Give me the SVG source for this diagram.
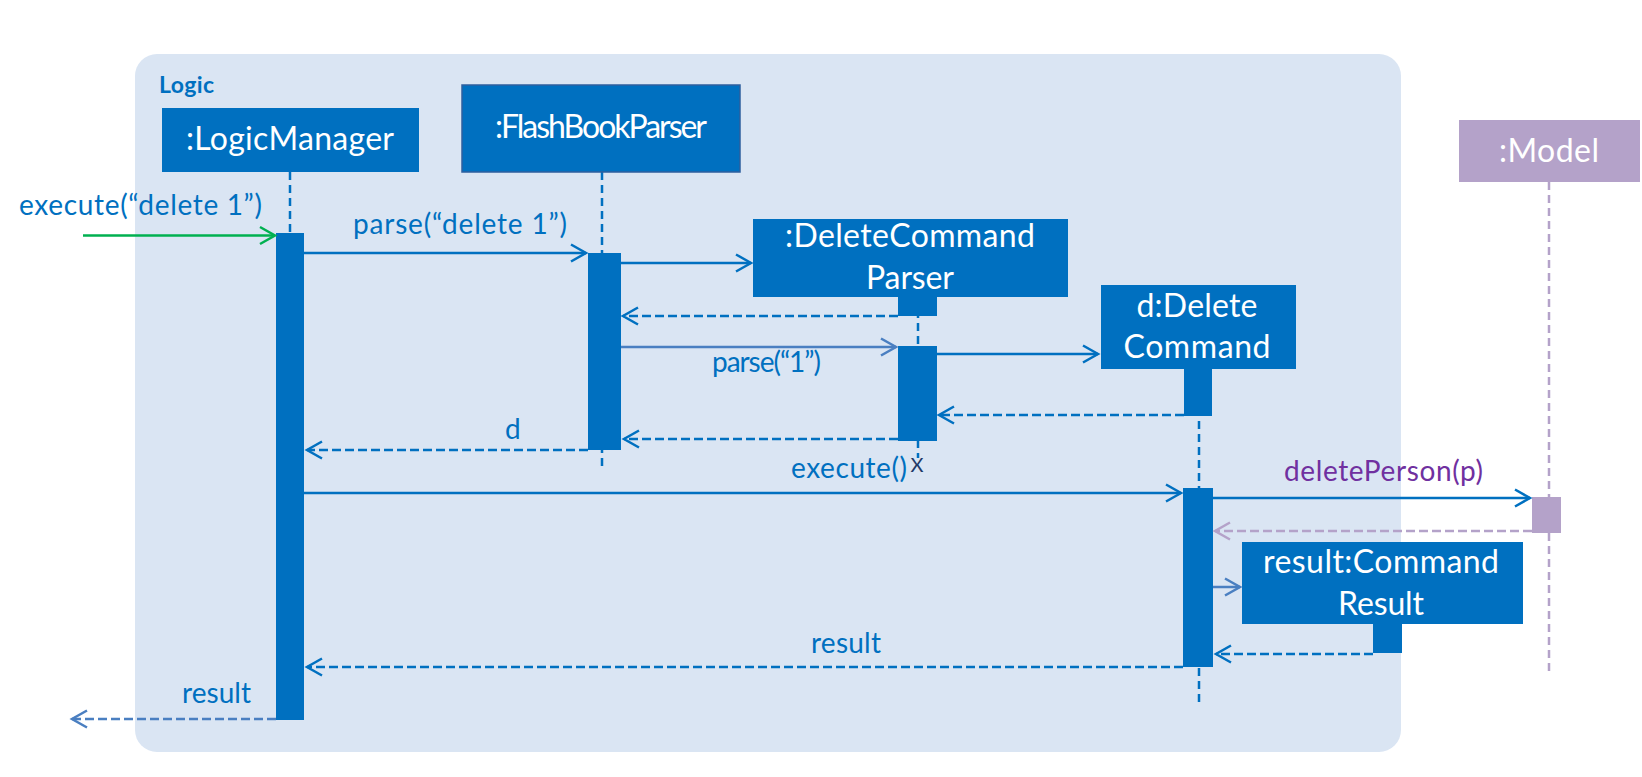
<svg xmlns="http://www.w3.org/2000/svg" width="1642" height="777" viewBox="0 0 1642 777">
<style>
text{font-family:Lato,"Liberation Sans",sans-serif}
.box{fill:#0070c0}
.act{fill:#0070c0}
.nl{fill:#ffffff;font-size:32px;text-anchor:middle}
.ml{fill:#0070c0;font-size:28px}
.life{stroke:#0070c0;stroke-width:2.5;stroke-dasharray:8 5;fill:none}
.sol{stroke:#0070c0;stroke-width:2.5;fill:none}
.lite{stroke:#4a7fc1;stroke-width:2.5;fill:none}
.ret{stroke:#0070c0;stroke-width:2.5;stroke-dasharray:9 4;fill:none}
</style>
<defs>
<marker id="ab" markerUnits="userSpaceOnUse" viewBox="-17 -10 19 20" refX="0" refY="0" markerWidth="19" markerHeight="20" orient="auto" overflow="visible"><path d="M-15,-8.5 L0,0 L-15,8.5" fill="none" stroke="#0070c0" stroke-width="2.5"/></marker>
<marker id="ag" markerUnits="userSpaceOnUse" viewBox="-17 -10 19 20" refX="0" refY="0" markerWidth="19" markerHeight="20" orient="auto" overflow="visible"><path d="M-15,-8.5 L0,0 L-15,8.5" fill="none" stroke="#00b050" stroke-width="2.5"/></marker>
<marker id="al" markerUnits="userSpaceOnUse" viewBox="-17 -10 19 20" refX="0" refY="0" markerWidth="19" markerHeight="20" orient="auto" overflow="visible"><path d="M-15,-8.5 L0,0 L-15,8.5" fill="none" stroke="#4a7fc1" stroke-width="2.5"/></marker>
<marker id="ap" markerUnits="userSpaceOnUse" viewBox="-17 -10 19 20" refX="0" refY="0" markerWidth="19" markerHeight="20" orient="auto" overflow="visible"><path d="M-15,-8.5 L0,0 L-15,8.5" fill="none" stroke="#b4a2c9" stroke-width="2.5"/></marker>
</defs>
<rect width="1642" height="777" fill="#ffffff"/>
<g id="logic-frame">
<rect x="135" y="54" width="1266" height="698" rx="22" fill="#dae5f3"/>
<text x="159" y="93" font-size="23" font-weight="bold" fill="#0070c0" textLength="55">Logic</text>
</g>
<g id="lifelines">
<line class="life" x1="290" y1="172" x2="290" y2="233"/>
<line class="life" x1="602" y1="172" x2="602" y2="470"/>
<line class="life" x1="918" y1="297" x2="918" y2="458"/>
<line class="life" x1="1199" y1="369" x2="1199" y2="707"/>
<line x1="1549" y1="182" x2="1549" y2="673" stroke="#b4a2c9" stroke-width="2.5" stroke-dasharray="8 5"/>
</g>
<g id="LogicManager">
<rect class="box" x="162" y="108" width="257" height="64"/>
<text class="nl" x="290" y="150" textLength="208">:LogicManager</text>
<rect class="act" x="276" y="233" width="28" height="487"/>
</g>
<g id="FlashBookParser">
<rect class="box" x="462" y="85" width="278" height="87" stroke="#2e5f9e" stroke-width="1.5"/>
<text class="nl" x="601" y="138" font-size="28" textLength="212">:FlashBookParser</text>
<rect class="act" x="588" y="253" width="33" height="197"/>
</g>
<g id="DeleteCommandParser">
<rect class="box" x="753" y="219" width="315" height="78"/>
<text class="nl" x="910" y="247" textLength="250">:DeleteCommand</text>
<text class="nl" x="910" y="289" textLength="88">Parser</text>
<rect class="act" x="898" y="296" width="39" height="20"/>
<rect class="act" x="898" y="346" width="39" height="95"/>
<text x="917" y="472" font-size="20" fill="#1f3a68" text-anchor="middle">X</text>
</g>
<g id="DeleteCommand">
<rect class="box" x="1101" y="285" width="195" height="84"/>
<text class="nl" x="1197" y="317" textLength="121">d:Delete</text>
<text class="nl" x="1197" y="358" textLength="147">Command</text>
<rect class="act" x="1184" y="368" width="28" height="48"/>
<rect class="act" x="1183" y="488" width="30" height="179"/>
</g>
<g id="Model">
<rect x="1459" y="120" width="181" height="62" fill="#b4a2c9"/>
<text class="nl" x="1549" y="162" textLength="100">:Model</text>
<rect x="1532" y="497" width="29" height="36" fill="#b4a2c9"/>
</g>
<g id="CommandResult">
<rect class="box" x="1242" y="542" width="281" height="82"/>
<text class="nl" x="1381" y="573" textLength="236">result:Command</text>
<text class="nl" x="1381" y="615" textLength="86">Result</text>
<rect class="act" x="1373" y="623" width="29" height="30"/>
</g>
<g id="connectors">
<line x1="83" y1="235.5" x2="275" y2="235.5" stroke="#00b050" stroke-width="2.5" marker-end="url(#ag)"/>
<line class="sol" x1="304" y1="253" x2="586" y2="253" marker-end="url(#ab)"/>
<line class="sol" x1="621" y1="263" x2="751" y2="263" marker-end="url(#ab)"/>
<line class="ret" x1="898" y1="316" x2="623" y2="316" marker-end="url(#ab)"/>
<line class="lite" x1="621" y1="347" x2="896" y2="347" marker-end="url(#al)"/>
<line class="sol" x1="937" y1="354" x2="1098" y2="354" marker-end="url(#ab)"/>
<line class="ret" x1="1184" y1="415" x2="939" y2="415" marker-end="url(#ab)"/>
<line class="ret" x1="898" y1="439" x2="624" y2="439" marker-end="url(#ab)"/>
<line class="ret" x1="588" y1="450" x2="307" y2="450" marker-end="url(#ab)"/>
<line class="sol" x1="304" y1="493" x2="1181" y2="493" marker-end="url(#ab)"/>
<line class="sol" x1="1213" y1="498" x2="1530" y2="498" marker-end="url(#ab)"/>
<line x1="1532" y1="531" x2="1215" y2="531" stroke="#b4a2c9" stroke-width="2.5" stroke-dasharray="9 4" marker-end="url(#ap)"/>
<line class="lite" x1="1213" y1="587" x2="1240" y2="587" marker-end="url(#al)"/>
<line class="ret" x1="1373" y1="654" x2="1216" y2="654" marker-end="url(#ab)"/>
<line class="ret" x1="1183" y1="667" x2="307" y2="667" marker-end="url(#ab)"/>
<line x1="276" y1="719" x2="72" y2="719" stroke="#4a7fc1" stroke-width="2.5" stroke-dasharray="9 4" marker-end="url(#al)"/>
<text class="ml" x="19" y="215" textLength="243">execute(“delete 1”)</text>
<text class="ml" x="353" y="234" textLength="214">parse(“delete 1”)</text>
<text class="ml" x="712" y="372" font-size="24" textLength="109">parse(“1”)</text>
<text class="ml" x="505" y="439">d</text>
<text class="ml" x="791" y="478" textLength="116">execute()</text>
<text class="ml" x="1284" y="481" style="fill:#7030a0" textLength="199">deletePerson(p)</text>
<text class="ml" x="811" y="653" textLength="70">result</text>
<text class="ml" x="182" y="703" textLength="69">result</text>
</g>
</svg>
